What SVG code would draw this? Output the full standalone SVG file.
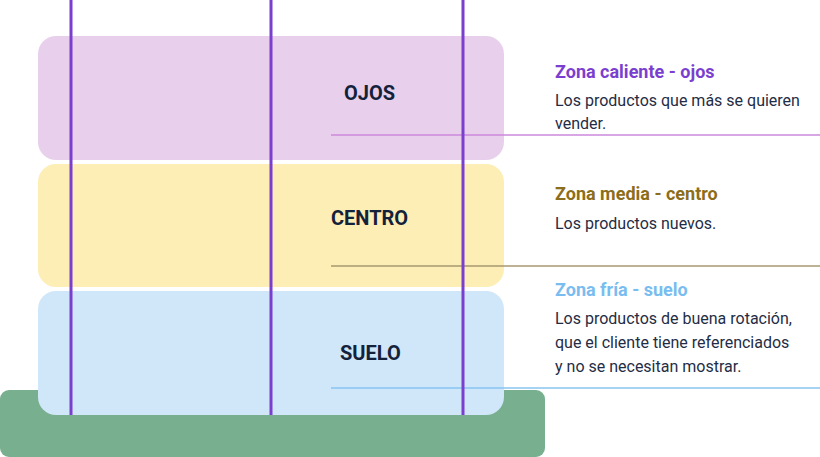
<svg xmlns="http://www.w3.org/2000/svg" width="820" height="457" viewBox="0 0 820 457">
<style>
.lbl{font-family:Roboto,"Liberation Sans",sans-serif;font-weight:700;font-size:20px;fill:#13223A}
.ttl{font-family:Roboto,"Liberation Sans",sans-serif;font-weight:700;font-size:18px}
.txt{font-family:Roboto,"Liberation Sans",sans-serif;font-size:16px;fill:#1F2D45}
.post{stroke:#7B3FCF;stroke-width:3}
</style>
<rect x="0" y="390" width="545" height="67" rx="9" fill="#78AF8E"/>
<g id="ojos">
<rect x="38" y="36" width="466" height="124" rx="18" fill="#E8D0EC"/>
<text class="lbl" x="344" y="100">OJOS</text>
</g>
<g id="centro">
<rect x="38" y="164" width="466" height="123" rx="18" fill="#FCEEB5"/>
<text class="lbl" x="331" y="225">CENTRO</text>
</g>
<g id="suelo">
<rect x="38" y="291" width="466" height="124" rx="18" fill="#D0E6F9"/>
<text class="lbl" x="340" y="360">SUELO</text>
</g>
<g id="connectors">
<line x1="331" y1="135" x2="820" y2="135" stroke="#CC88DD" stroke-width="1.5"/>
<line x1="331" y1="266" x2="820" y2="266" stroke="#A89870" stroke-width="1.5"/>
<line x1="331" y1="388" x2="820" y2="388" stroke="#88C4F0" stroke-width="1.5"/>
<line class="post" x1="71" y1="0" x2="71" y2="415"/>
<line class="post" x1="271" y1="0" x2="271" y2="415"/>
<line class="post" x1="463" y1="0" x2="463" y2="415"/>
</g>
<g id="info-ojos">
<text class="ttl" x="555" y="78" fill="#7B3FCF">Zona caliente - ojos</text>
<text class="txt" x="555" y="106">Los productos que más se quieren</text>
<text class="txt" x="555" y="129">vender.</text>
</g>
<g id="info-centro">
<text class="ttl" x="555" y="200" fill="#8C6E1A">Zona media - centro</text>
<text class="txt" x="555" y="229">Los productos nuevos.</text>
</g>
<g id="info-suelo">
<text class="ttl" x="555" y="296" fill="#79BDF0">Zona fría - suelo</text>
<text class="txt" x="555" y="324">Los productos de buena rotación,</text>
<text class="txt" x="555" y="348">que el cliente tiene referenciados</text>
<text class="txt" x="555" y="372">y no se necesitan mostrar.</text>
</g>
</svg>
